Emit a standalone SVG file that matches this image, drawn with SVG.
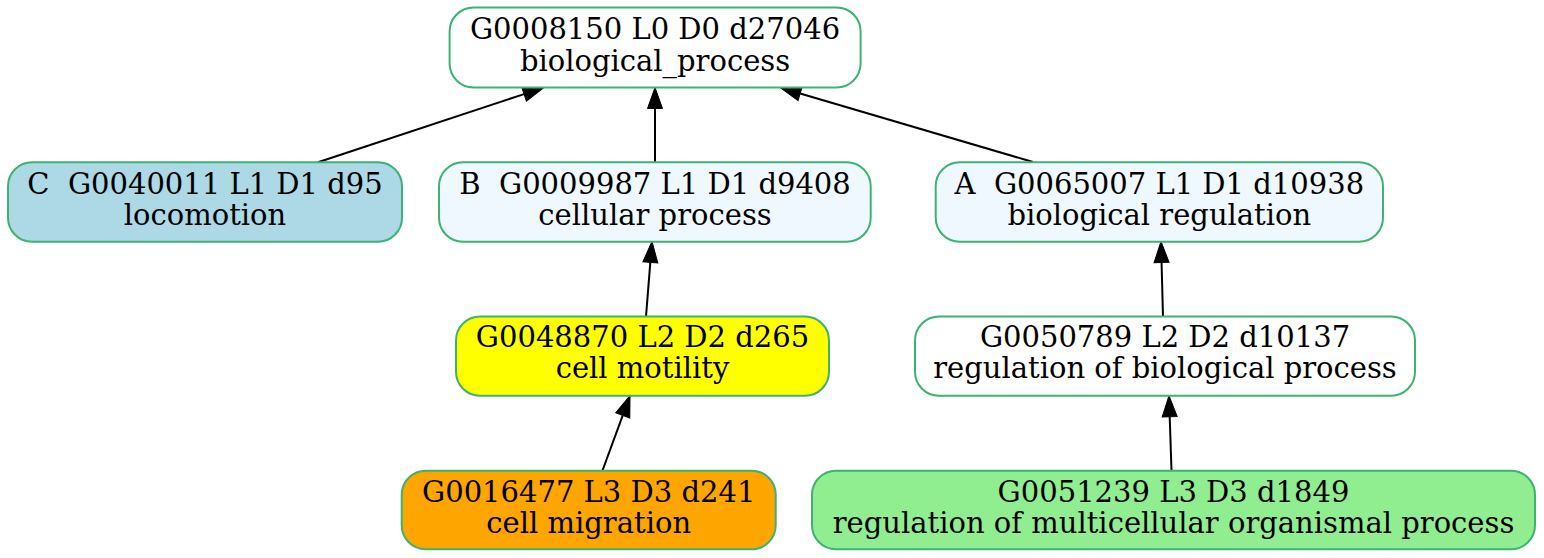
<svg xmlns="http://www.w3.org/2000/svg" width="1544" height="558" viewBox="0 0 1544 558">
<style>
.box{stroke:#3cb371;stroke-width:2}
text{font-family:"DejaVu Serif","Liberation Serif",serif;font-size:29px;fill:#000;text-anchor:middle;white-space:pre}
.edge{stroke:#000;stroke-width:2;fill:none}
</style>
<defs>
<marker id="ah" markerUnits="userSpaceOnUse" markerWidth="30" markerHeight="30" refX="0" refY="0" orient="auto" overflow="visible" viewBox="-15 -15 30 30">
<path d="M0,-7.5 L21,0 L0,7.5 Z" fill="#000" stroke="#000" stroke-width="1"/>
</marker>
</defs>
<rect width="1544" height="558" fill="#fff"/>
<g id="connectors">
<path class="edge" d="M318,162.3 L524.06,94.1" marker-end="url(#ah)"/>
<path class="edge" d="M655,162 L655,108.5" marker-end="url(#ah)"/>
<path class="edge" d="M1033,162 L800.15,93.43" marker-end="url(#ah)"/>
<path class="edge" d="M646,316.5 L650.33,262.43" marker-end="url(#ah)"/>
<path class="edge" d="M1163,316.5 L1161.56,262.49" marker-end="url(#ah)"/>
<path class="edge" d="M602.5,470.5 L622.75,415.41" marker-end="url(#ah)"/>
<path class="edge" d="M1171.5,470.5 L1169.7,416.69" marker-end="url(#ah)"/>
</g>
<g id="n_G0008150">
<rect class="box" x="449.6" y="7.5" width="411" height="80" rx="24" ry="24" fill="#ffffff"/>
<text x="655" y="39.3">G0008150 L0 D0 d27046</text>
<text x="655" y="71">biological_process</text>
</g>
<g id="n_G0040011">
<rect class="box" x="8" y="162.3" width="394" height="79.4" rx="24" ry="24" fill="#add8e6"/>
<text x="205" y="193.5">C  G0040011 L1 D1 d95</text>
<text x="205" y="224.5">locomotion</text>
</g>
<g id="n_G0009987">
<rect class="box" x="439" y="162.3" width="431.7" height="79.4" rx="24" ry="24" fill="#f0f8ff"/>
<text x="655" y="193.5">B  G0009987 L1 D1 d9408</text>
<text x="655" y="224.5">cellular process</text>
</g>
<g id="n_G0065007">
<rect class="box" x="935.7" y="162.3" width="447.3" height="79.4" rx="24" ry="24" fill="#f0f8ff"/>
<text x="1159.3" y="193.5">A  G0065007 L1 D1 d10938</text>
<text x="1159.3" y="224.5">biological regulation</text>
</g>
<g id="n_G0048870">
<rect class="box" x="456" y="316.5" width="373" height="79.2" rx="24" ry="24" fill="#ffff00"/>
<text x="642.5" y="347">G0048870 L2 D2 d265</text>
<text x="642.5" y="378.3">cell motility</text>
</g>
<g id="n_G0050789">
<rect class="box" x="915" y="316.5" width="500" height="79.2" rx="24" ry="24" fill="#ffffff"/>
<text x="1165" y="347">G0050789 L2 D2 d10137</text>
<text x="1165" y="378.3">regulation of biological process</text>
</g>
<g id="n_G0016477">
<rect class="box" x="401.7" y="470.7" width="374" height="78.6" rx="24" ry="24" fill="#ffa500"/>
<text x="588.7" y="502">G0016477 L3 D3 d241</text>
<text x="588.7" y="533.3">cell migration</text>
</g>
<g id="n_G0051239">
<rect class="box" x="812" y="470.7" width="723" height="78.6" rx="24" ry="24" fill="#90ee90"/>
<text x="1173.5" y="502">G0051239 L3 D3 d1849</text>
<text x="1173.5" y="533.3">regulation of multicellular organismal process</text>
</g>
</svg>
